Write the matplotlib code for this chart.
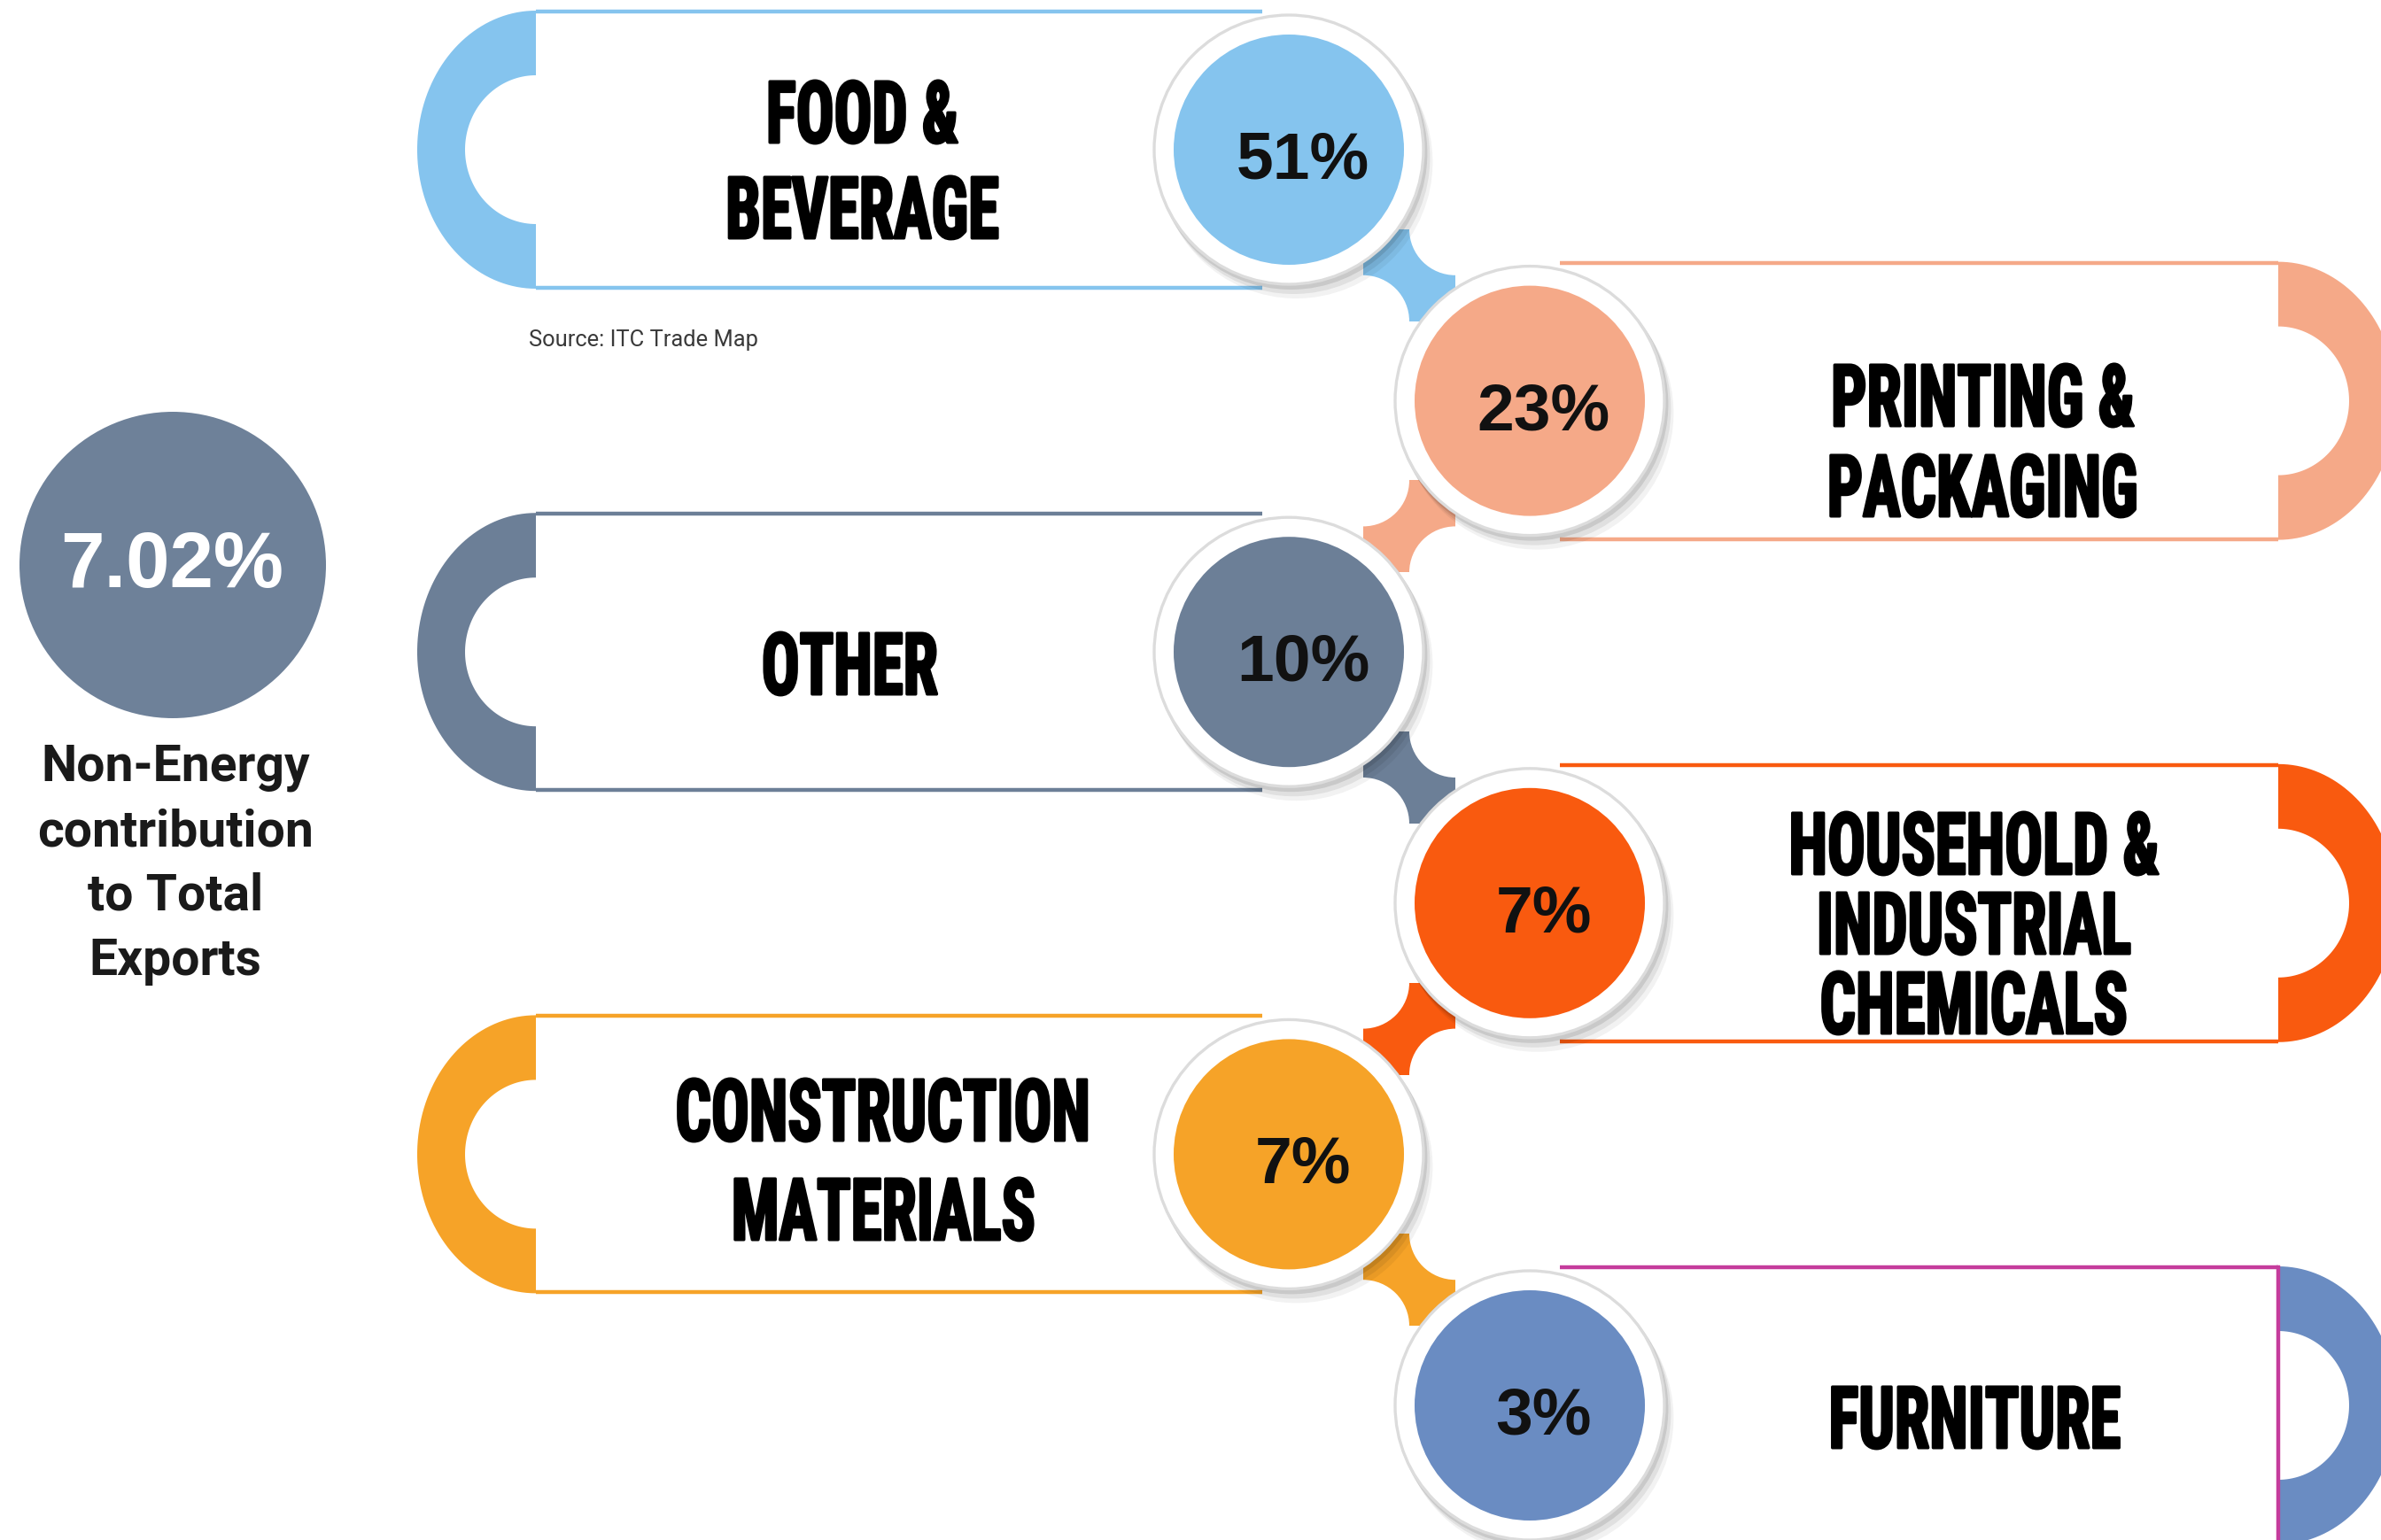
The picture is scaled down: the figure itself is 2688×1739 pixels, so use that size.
#!/usr/bin/env python3
"""Non-energy export breakdown, redrawn as a chain of pill panels."""

import numpy as np
import matplotlib
matplotlib.use("Agg")
import matplotlib.pyplot as plt
from matplotlib import font_manager as fm
from matplotlib.font_manager import FontProperties
from matplotlib.patches import Circle, Polygon, Rectangle
from matplotlib.patheffects import AbstractPathEffect
from matplotlib.textpath import TextPath
from matplotlib.transforms import Affine2D

# ---- data -------------------------------------------------------------
categories = ["FOOD &\nBEVERAGE", "PRINTING &\nPACKAGING", "OTHER",
              "HOUSEHOLD &\nINDUSTRIAL\nCHEMICALS", "CONSTRUCTION\nMATERIALS",
              "FURNITURE"]
shares = [51, 23, 10, 7, 7, 3]
colors = ["#85C4EE", "#F5A988", "#6C7F97", "#F95A0F", "#F6A328", "#6A8CC2"]
border_colors = ["#85C4EE", "#F5A988", "#6C7F97", "#F95A0F", "#F6A328", "#C53C9C"]
headline_value = "7.02%"
headline_lines = ["Non-Energy", "contribution", "to Total", "Exports"]
source_note = "Source: ITC Trade Map"

# ---- layout (pixel space, y down) -----------------------------------
W, H = 2688, 1740
DPI = 200
ROW_Y0, ROW_GAP = 170, 283.6
PANEL_HALF = 156
LEFT_EDGE, RIGHT_EDGE = 605, 2572
CIRC_X = (1455, 1727)
R_FILL, R_RING = 130, 152
CAP_OUT = (134, 157)
CAP_IN = (80, 84)
NECK = 52
label_pos = [(973, 190), (2238, 507), (959, 759), (2228, 1052), (997, 1319), (2229, 1610)]
label_gap = [108, 102, 0, 90, 112, 0]
PCT_OFF = (16, 12)
LABEL_CAP_PX = 74      # cap height of the panel labels
LABEL_REF_W = 306      # width of "BEVERAGE"
STROKE_PX = 3


def label_font():
    """Best available bold, condensed-looking family."""
    wanted = ["Roboto Condensed", "Open Sans Condensed", "Noto Sans ExtraCondensed",
              "Noto Sans Condensed", "Liberation Sans Narrow", "Roboto"]
    for fam in wanted:
        for f in fm.fontManager.ttflist:
            if f.name == fam and f.style == "normal" and f.weight in (700, "bold"):
                return FontProperties(fname=f.fname)
    for f in fm.fontManager.ttflist:
        name = f.name.lower()
        if ("condensed" in name or "narrow" in name) and f.style == "normal" \
                and f.weight in (700, "bold") and "mono" not in name:
            return FontProperties(fname=f.fname)
    return FontProperties(family="Liberation Sans", weight="bold")


class Condensed(AbstractPathEffect):
    """Squeeze glyphs horizontally about their centre and thicken them a little."""

    def __init__(self, sx, stroke_pt):
        super().__init__()
        self.sx = sx
        self.stroke_pt = stroke_pt

    def draw_path(self, renderer, gc, tpath, affine, rgbFace=None):
        ext = tpath.get_extents(affine)
        mx = 0.5 * (ext.x0 + ext.x1)
        squeeze = affine + Affine2D().translate(-mx, 0).scale(self.sx, 1).translate(mx, 0)
        gc0 = renderer.new_gc()
        gc0.copy_properties(gc)
        gc0.set_linewidth(self.stroke_pt)
        gc0.set_joinstyle("round")
        gc0.set_foreground(rgbFace)
        renderer.draw_path(gc0, tpath, squeeze, rgbFace)
        gc0.restore()


# size the label font from its own glyph metrics
lab_fp = label_font()
probe = TextPath((0, 0), "BEVERAGE", size=100, prop=lab_fp).get_extents()
em_px = (LABEL_CAP_PX - STROKE_PX) / (probe.height / 100)
label_pt = em_px * 72 / DPI
label_sx = min(1.0, (LABEL_REF_W - STROKE_PX) / (probe.width / 100 * em_px))
squeeze_fx = Condensed(label_sx, STROKE_PX * 72 / DPI)

fig = plt.figure(figsize=(W / DPI, H / DPI), dpi=DPI)
ax = fig.add_axes([0, 0, 1, 1])
ax.set_xlim(0, W)
ax.set_ylim(H, 0)
ax.axis("off")


def cap(xc, yc, side, color):
    if side < 0:
        th = np.linspace(np.pi / 2, 3 * np.pi / 2, 80)
    else:
        th = np.linspace(np.pi / 2, -np.pi / 2, 80)
    outer = np.c_[xc + CAP_OUT[0] * np.cos(th), yc - CAP_OUT[1] * np.sin(th)]
    inner = np.c_[xc + CAP_IN[0] * np.cos(th[::-1]), yc - CAP_IN[1] * np.sin(th[::-1])]
    ax.add_patch(Polygon(np.vstack([outer, inner]), closed=True, fc=color,
                         ec="none", zorder=1))


def neck(p, q, color):
    # square between two bubbles; bubbles bite two corners, white discs the others
    mx, my = (p[0] + q[0]) / 2, (p[1] + q[1]) / 2
    sx, sy = np.sign(q[0] - p[0]), np.sign(q[1] - p[1])
    ax.add_patch(Rectangle((mx - NECK, my - NECK), 2 * NECK, 2 * NECK, fc=color,
                           ec="none", zorder=3))
    for cx, cy in [(mx + sx * NECK, my - sy * NECK), (mx - sx * NECK, my + sy * NECK)]:
        ax.add_patch(Circle((cx, cy), NECK, fc="white", ec="none", zorder=3.5))


centers = []
for i, (name, col, bcol) in enumerate(zip(categories, colors, border_colors)):
    yc = ROW_Y0 + i * ROW_GAP
    side = -1 if i % 2 == 0 else 1
    cx = CIRC_X[0] if side < 0 else CIRC_X[1]
    centers.append((cx, yc))

    # white body with thin coloured rules
    x0, x1 = (LEFT_EDGE, cx - 30) if side < 0 else (cx + 34, RIGHT_EDGE)
    ax.add_patch(Rectangle((x0, yc - PANEL_HALF), x1 - x0, 2 * PANEL_HALF,
                           fc="white", ec="none", zorder=1))
    for yy in (yc - PANEL_HALF, yc + PANEL_HALF):
        ax.plot([x0, x1], [yy, yy], color=bcol, lw=1.6, zorder=2, solid_capstyle="butt")
    if bcol != col:
        ax.plot([RIGHT_EDGE] * 2, [yc - PANEL_HALF, yc + PANEL_HALF], color=bcol,
                lw=1.6, zorder=2)

    cap(LEFT_EDGE if side < 0 else RIGHT_EDGE, yc, side, col)

    # category label, one text per line
    lines = name.split("\n")
    lx, ly = label_pos[i]
    for k, line in enumerate(lines):
        yy = ly + (k - (len(lines) - 1) / 2) * label_gap[i]
        ax.text(lx, yy, line, fontproperties=lab_fp, fontsize=label_pt,
                color="black", ha="center", va="center", zorder=7,
                path_effects=[squeeze_fx])

# necks between consecutive bubbles, in the colour of the upper one
for i in range(len(centers) - 1):
    neck(centers[i], centers[i + 1], colors[i])

# bubbles
for (cx, cy), pct, col in zip(centers, shares, colors):
    for off, alpha in [(4, 0.10), (9, 0.07), (14, 0.05)]:
        ax.add_patch(Circle((cx + off * 0.6, cy + off), R_RING + 2, fc="black",
                            ec="none", alpha=alpha, zorder=4))
    ax.add_patch(Circle((cx, cy), R_RING, fc="white", ec="#DCDCDC", lw=1.2, zorder=5))
    ax.add_patch(Circle((cx, cy), R_FILL, fc=col, ec="none", zorder=6))
    ax.text(cx + PCT_OFF[0], cy + PCT_OFF[1], f"{pct}%", family="Liberation Sans",
            weight="bold", fontsize=27, color="#111111", ha="center", va="center",
            zorder=7)

# headline figure on the left
ax.add_patch(Circle((195, 639), 173, fc="#6E8199", ec="none", zorder=2))
ax.text(194, 640, headline_value, family="Liberation Sans", weight="bold",
        fontsize=32, color="white", ha="center", va="center", zorder=7)
for k, line in enumerate(headline_lines):
    ax.text(198, 867 + k * 72.7, line, family="Roboto", weight="bold", fontsize=20.5,
            color="#1A1A1A", ha="center", va="center", zorder=7)

ax.text(597, 384, source_note, family="Roboto", fontsize=9.2, color="#3A3A3A",
        ha="left", va="center", zorder=7)

fig.savefig("out.png", dpi=DPI, facecolor="white")
